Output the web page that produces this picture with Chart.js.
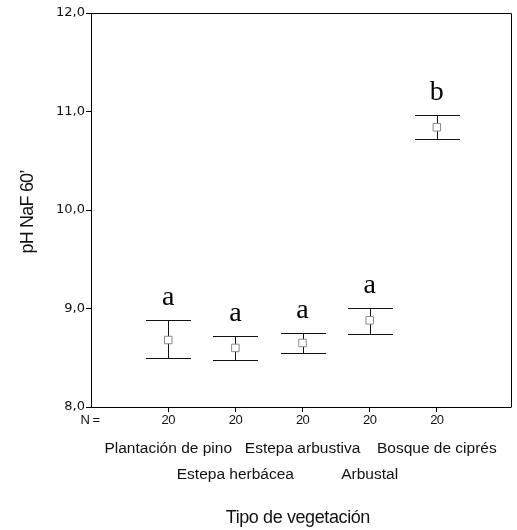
<!DOCTYPE html>
<html>
<head>
<meta charset="utf-8">
<script src="https://cdn.jsdelivr.net/npm/chart.js@4/dist/chart.umd.min.js"></script>
<style>
html,body{margin:0;padding:0;background:#fff;}
canvas{display:block;}
</style>
</head>
<body>
<canvas id="c" width="517" height="530"></canvas>
<script>
// ---- data ----
const categories = ['Plantación de pino', 'Estepa herbácea', 'Estepa arbustiva', 'Arbustal', 'Bosque de ciprés'];
const nValues = [20, 20, 20, 20, 20];
const means = [8.68, 8.60, 8.65, 8.88, 10.84];
const lowerCI = [8.50, 8.48, 8.55, 8.74, 10.72];
const upperCI = [8.88, 8.72, 8.75, 9.01, 10.96];
const letters = ['a', 'a', 'a', 'a', 'b'];
const yTicks = [8, 9, 10, 11, 12];
const xTitle = 'Tipo de vegetación';
const yTitle = 'pH NaF 60’';
const nLabel = 'N =';

const SANS = '"Liberation Sans", Arial, sans-serif';

const errorBars = {
  id: 'errorBars',
  beforeDatasetsDraw(chart) {
    const {ctx, scales: {x, y}} = chart;
    const capHalf = (x.getPixelForValue(1) - x.getPixelForValue(0)) * 0.335;
    ctx.save();
    ctx.strokeStyle = '#111';
    ctx.lineWidth = 1;
    categories.forEach((c, i) => {
      const px = Math.round(x.getPixelForValue(i + 1)) + 0.5;
      const yl = Math.round(y.getPixelForValue(lowerCI[i])) + 0.5;
      const yu = Math.round(y.getPixelForValue(upperCI[i])) + 0.5;
      ctx.beginPath();
      ctx.moveTo(px, yu); ctx.lineTo(px, yl);
      ctx.moveTo(px - capHalf, yu); ctx.lineTo(px + capHalf, yu);
      ctx.moveTo(px - capHalf, yl); ctx.lineTo(px + capHalf, yl);
      ctx.stroke();
    });
    ctx.restore();
  },
  afterDatasetsDraw(chart) {
    const {ctx, scales: {x, y}} = chart;
    ctx.save();
    ctx.fillStyle = '#000';
    ctx.font = '28px "Liberation Serif", "Times New Roman", serif';
    ctx.textAlign = 'center';
    ctx.textBaseline = 'alphabetic';
    letters.forEach((l, i) => {
      ctx.fillText(l, x.getPixelForValue(i + 1), y.getPixelForValue(upperCI[i]) - 15);
    });
    ctx.restore();
  },
  afterDraw(chart) {
    const {ctx, chartArea: a, scales: {x}} = chart;
    ctx.save();
    // frame top/right
    ctx.strokeStyle = '#000';
    ctx.lineWidth = 1;
    ctx.beginPath();
    ctx.moveTo(Math.round(a.left) + 0.5, Math.round(a.top) + 0.5);
    ctx.lineTo(Math.round(a.right) + 0.5, Math.round(a.top) + 0.5);
    ctx.lineTo(Math.round(a.right) + 0.5, Math.round(a.bottom) + 0.5);
    ctx.stroke();

    ctx.fillStyle = '#111';
    ctx.textAlign = 'center';
    ctx.textBaseline = 'middle';
    // N row
    ctx.font = '13px ' + SANS;
    if ('letterSpacing' in ctx) ctx.letterSpacing = '-0.6px';
    ctx.fillText(nLabel, a.left - 1, a.bottom + 13);
    nValues.forEach((n, i) => ctx.fillText(String(n), x.getPixelForValue(i + 1), a.bottom + 13));
    if ('letterSpacing' in ctx) ctx.letterSpacing = '0px';
    // category labels, staggered
    ctx.font = '15.5px ' + SANS;
    categories.forEach((c, i) => {
      ctx.fillText(c, x.getPixelForValue(i + 1), a.bottom + (i % 2 === 0 ? 42 : 68));
    });
    // x title
    ctx.font = '18px ' + SANS;
    if ('letterSpacing' in ctx) ctx.letterSpacing = '-0.4px';
    ctx.fillText(xTitle, (a.left + a.right) / 2 - 3, a.bottom + 111);
    // y title
    ctx.translate(33, (a.top + a.bottom) / 2 + 2);
    ctx.rotate(-Math.PI / 2);
    ctx.textBaseline = 'alphabetic';
    if ('letterSpacing' in ctx) ctx.letterSpacing = '-0.8px';
    ctx.fillText(yTitle, 0, 0);
    ctx.restore();
  }
};

new Chart(document.getElementById('c'), {
  type: 'scatter',
  data: {
    datasets: [{
      data: means.map((m, i) => ({x: i + 1, y: m})),
      pointStyle: 'rect',
      pointRadius: 5.3,
      pointBorderColor: '#8a8a8a',
      pointBackgroundColor: '#fff',
      pointBorderWidth: 1
    }]
  },
  options: {
    responsive: false,
    devicePixelRatio: 1,
    animation: false,
    layout: {padding: {top: 13, right: 6, left: 0, bottom: 0}},
    plugins: {legend: {display: false}, tooltip: {enabled: false}},
    scales: {
      x: {
        type: 'linear',
        min: -0.15,
        max: 6.1,
        afterBuildTicks: s => { s.ticks = categories.map((c, i) => ({value: i + 1})); },
        afterFit: s => { s.height = 123; },
        ticks: {display: false},
        grid: {drawOnChartArea: false, drawTicks: true, tickLength: 5, color: '#000'},
        border: {display: true, color: '#000', width: 1}
      },
      y: {
        type: 'linear',
        min: 8,
        max: 12,
        afterBuildTicks: s => { s.ticks = yTicks.map(v => ({value: v})); },
        afterFit: s => { s.width = 91; },
        ticks: {
          callback: v => v.toFixed(1).replace('.', ','),
          font: {family: '"DejaVu Sans", sans-serif', size: 13},
          color: '#111',
          padding: 1
        },
        grid: {drawOnChartArea: false, drawTicks: true, tickLength: 5, color: '#000'},
        border: {display: true, color: '#000', width: 1}
      }
    }
  },
  plugins: [errorBars]
});
</script>
</body>
</html>
